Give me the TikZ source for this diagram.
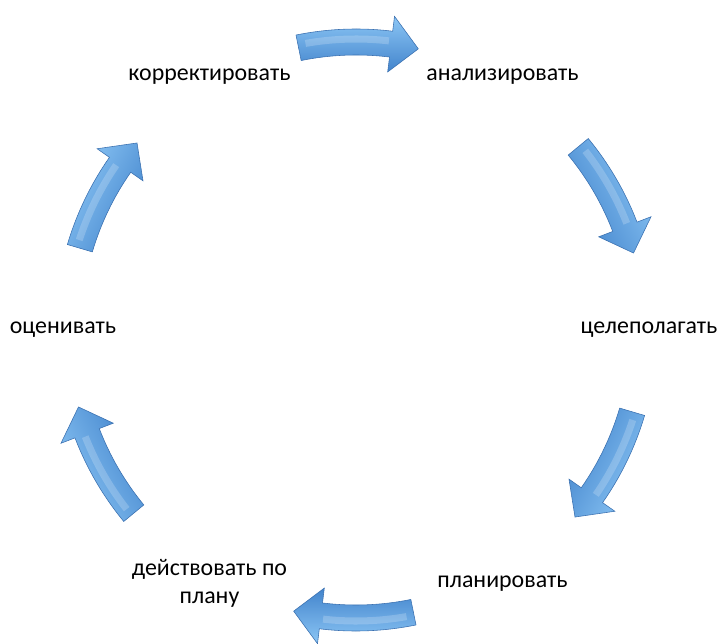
\documentclass[tikz,border=0pt]{standalone}
\usepackage{fontspec}
\setmainfont{Carlito}
\definecolor{arrowlight}{RGB}{140,198,245}
\definecolor{arrowmid}{RGB}{100,170,234}
\definecolor{arrowdark}{RGB}{66,132,204}
\definecolor{arrowedge}{RGB}{58,112,176}
\begin{document}
\begin{tikzpicture}[x=0.025cm,y=0.025cm,
    cyclabel/.style={font=\fontsize{17}{20}\selectfont, align=center},
    cycarrow/.style={draw=arrowedge, line width=0.4pt, shading=axis,
      top color=arrowlight, middle color=arrowmid, bottom color=arrowdark}]
    \useasboundingbox (-356,-313) rectangle (364,330);

	%Arrows
	\foreach \a [evaluate=\a as \sa using \a-90] in {90,28,-28,-90,-152,152}{
	  \draw[cycarrow, shading angle=\sa] ({\a+11.5}:301) arc[start angle=\a+11.5, end angle=\a-7, radius=301]
	    -- ({\a-7}:316) -- ({\a-12.5}:288) -- ({\a-7}:260) -- ({\a-7}:275)
	    arc[start angle=\a-7, end angle=\a+11.5, radius=275] -- cycle;
	  \draw[white, opacity=0.2, line width=5pt] ({\a+10}:291) arc[start angle=\a+10, end angle=\a-6.5, radius=291];
	}

	%Labels
	\node[cyclabel] (analyze) at (60:293) {анализировать};
	\node[cyclabel] (goal) at (0:293) {целеполагать};
	\node[cyclabel] (plan) at (-60:293) {планировать};
	\node[cyclabel] (act) at (-120:293) {действовать по\\плану};
	\node[cyclabel] (assess) at (180:293) {оценивать};
	\node[cyclabel] (correct) at (120:293) {корректировать};
\end{tikzpicture}
\end{document}
